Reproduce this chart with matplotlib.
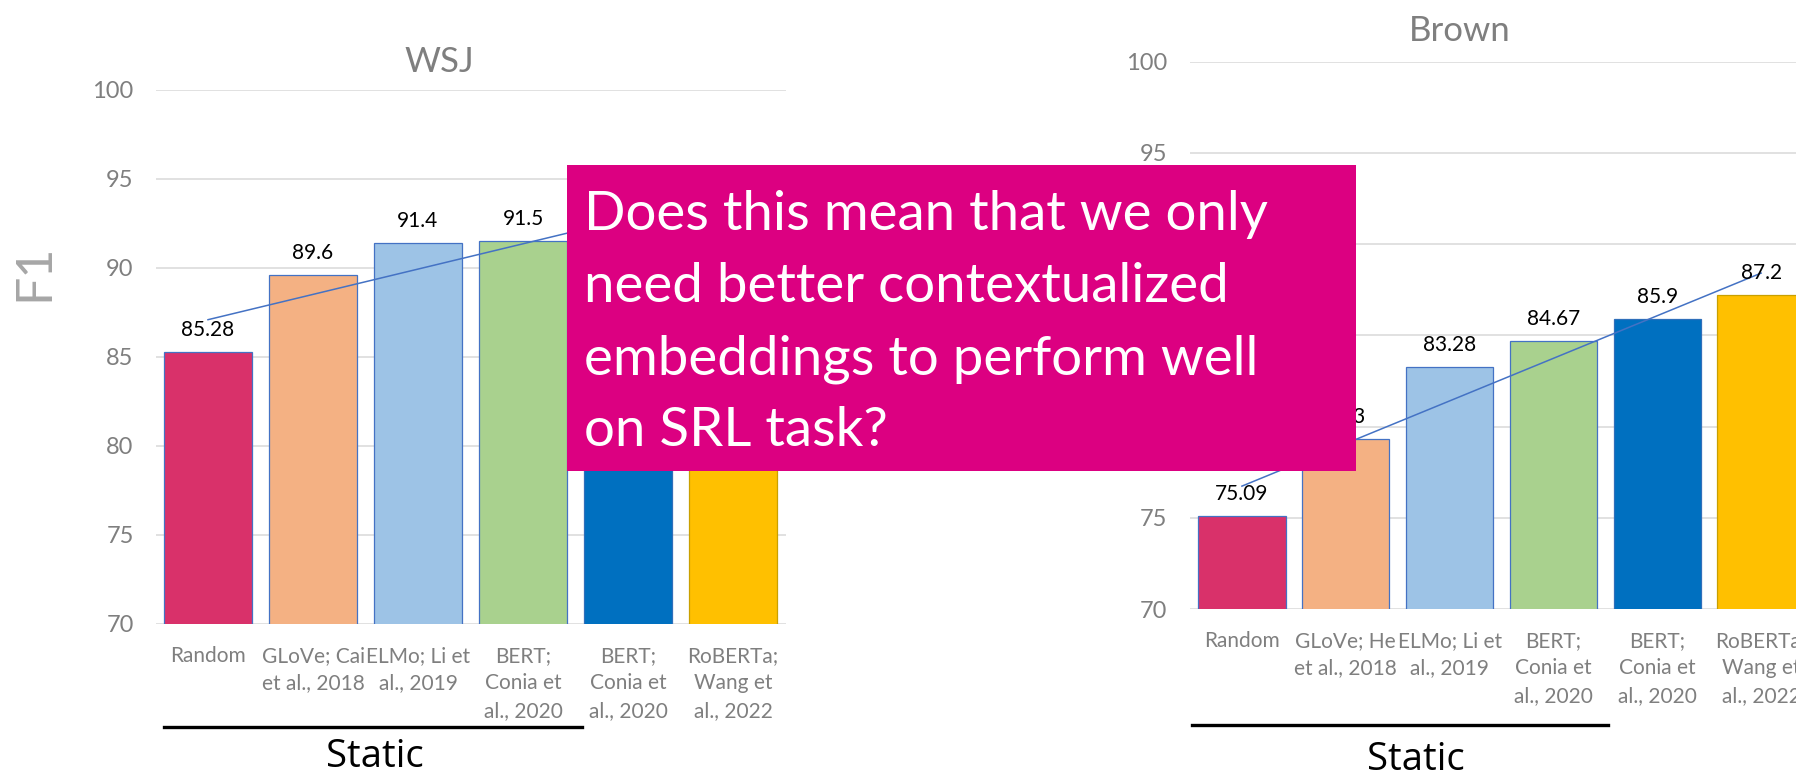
import numpy as np
import matplotlib
matplotlib.use("Agg")
import matplotlib.pyplot as plt
from matplotlib.patches import Rectangle
from matplotlib.lines import Line2D

W, H = 1796, 773
DPI = 100

# ---- data ----
wsj_labels = ["Random", "GLoVe; Cai\net al., 2018", "ELMo; Li et\nal., 2019",
              "BERT;\nConia et\nal., 2020", "BERT;\nConia et\nal., 2020",
              "RoBERTa;\nWang et\nal., 2022"]
brown_labels = ["Random", "GLoVe; He\net al., 2018", "ELMo; Li et\nal., 2019",
                "BERT;\nConia et\nal., 2020", "BERT;\nConia et\nal., 2020",
                "RoBERTa;\nWang et\nal., 2022"]
wsj_values = [85.28, 89.6, 91.4, 91.5, 92.6, 93.4]
brown_values = [75.09, 79.3, 83.28, 84.67, 85.9, 87.2]
y_ticks = [70, 75, 80, 85, 90, 95, 100]

bar_colors = ["#D9316A", "#F4B183", "#9DC3E6", "#A9D18E", "#0070C0", "#FFC000"]
edge_colors = ["#4472C4", "#4472C4", "#4472C4", "#4472C4", "#2F6FBA", "#C9A000"]

callout_lines = ["Does this mean that we only",
                 "need better contextualized",
                 "embeddings to perform well",
                 "on SRL task?"]

FONT = "Lato"
GRAY = "#7F7F7F"


def fx(px):
    return px / W


def fy(py):
    return 1 - py / H


def make_axes(fig, left, right, y70, y100):
    return fig.add_axes([fx(left), fy(y70), (right - left) / W, (y70 - y100) / H])


def draw_chart(ax, labels, values, ytick_pad):
    x = np.arange(len(values))
    ax.bar(x, values, width=0.84, color=bar_colors, edgecolor=edge_colors,
           linewidth=0.9, zorder=2)
    # linear trendline, like Excel's
    k, b = np.polyfit(x, values, 1)
    xe = x[[0, -1]]
    ax.plot(xe, k * xe + b, color="#4472C4", linewidth=1.1, zorder=3)
    for xi, v in zip(x, values):
        ax.annotate(f"{v:g}", (xi, v), xytext=(0, 11.5), textcoords="offset points",
                    ha="center", va="baseline", fontsize=15, family=FONT,
                    color="black", zorder=4)
    ax.set_xlim(-0.5, len(values) - 0.5)
    ax.set_ylim(70, 100)
    ax.set_yticks(y_ticks)
    ax.set_xticks(x, labels)
    ax.grid(axis="y", color="#D9D9D9", linewidth=1.1, zorder=0)
    ax.set_axisbelow(True)
    for s in ax.spines.values():
        s.set_visible(False)
    ax.tick_params(axis="y", length=0, pad=ytick_pad, labelsize=17, labelcolor=GRAY)
    ax.tick_params(axis="x", length=0, pad=16, labelsize=15, labelcolor=GRAY)
    for t in ax.get_yticklabels() + ax.get_xticklabels():
        t.set_family(FONT)
    for t in ax.get_xticklabels():
        t.set_linespacing(1.45)
    ax.patch.set_alpha(0)


fig = plt.figure(figsize=(W / DPI, H / DPI), dpi=DPI)

ax1 = make_axes(fig, 155.5, 785.5, 624, 89.5)
draw_chart(ax1, wsj_labels, wsj_values, 15.7)
ax2 = make_axes(fig, 1190, 1813, 609, 61.7)
draw_chart(ax2, brown_labels, brown_values, 16.2)

# titles and axis label
fig.text(fx(439), fy(71.7), "WSJ", ha="center", va="baseline", fontsize=25,
         color=GRAY, family=FONT)
fig.text(fx(1459.5), fy(40.7), "Brown", ha="center", va="baseline", fontsize=25,
         color=GRAY, family=FONT)
fig.text(fx(34.7), fy(272), "F1", ha="center", va="center", rotation=90,
         fontsize=36, color="#A6A6A6", family=FONT)

# "Static" group markers
for x0, x1, yl, xc, yb in [(164, 581.7, 726.7, 375, 766.7),
                           (1191.7, 1608, 725, 1416, 770)]:
    fig.add_artist(Line2D([fx(x0), fx(x1)], [fy(yl), fy(yl)], color="black",
                          linewidth=2.4, transform=fig.transFigure))
    fig.text(fx(xc), fy(yb), "Static", ha="center", va="baseline", fontsize=27.5,
             color="black", family="Open Sans")

# callout box
fig.add_artist(Rectangle((fx(566.5), fy(470.7)), (1355.5 - 566.5) / W,
                         (470.7 - 165) / H, transform=fig.transFigure,
                         facecolor="#DC0081", edgecolor="none", zorder=10))
for i, line in enumerate(callout_lines):
    fig.text(fx(584), fy(230 + i * 72), line, ha="left", va="baseline",
             fontsize=39.3, color="white", family=FONT, zorder=11)

fig.savefig("out.png", dpi=DPI)
